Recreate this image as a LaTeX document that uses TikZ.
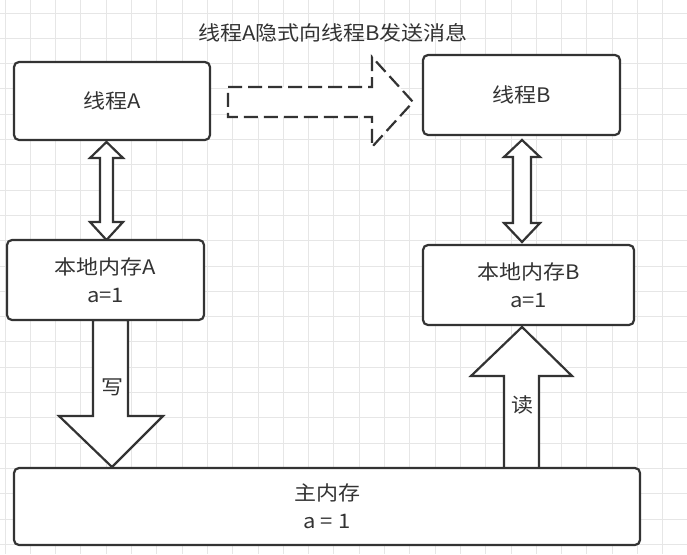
\documentclass[tikz,border=0pt]{standalone}
\usepackage{fontspec}
\setmainfont[FakeStretch=1.1]{Noto Sans CJK SC}
\usetikzlibrary{calc}
\definecolor{ink}{HTML}{333333}
\definecolor{gridc}{HTML}{E6E6E6}
\begin{document}
\begin{tikzpicture}[x=1pt,y=-1pt,
  box/.style={draw=ink, line width=2.2pt, rounded corners=5pt, fill=white, text=ink,
    align=center, inner sep=0pt, font=\fontsize{20}{28}\selectfont},
  blockarrow/.style={draw=ink, line width=2.2pt, fill=white, line join=miter},
  dasharrow/.style={blockarrow, dash pattern=on 14pt off 6pt},
  lbl/.style={text=ink, inner sep=0pt, font=\fontsize{20}{26}\selectfont}]
\fill[white] (0,0) rectangle (687,554);
\useasboundingbox (0,0) rectangle (687,554);
\foreach \i in {0,...,27} \draw[gridc, line width=1pt] ({5+25.3*\i},0) -- ({5+25.3*\i},554);
\foreach \j in {0,...,21} \draw[gridc, line width=1pt] (0,{13+25.3*\j}) -- (687,{13+25.3*\j});

% block arrows
\draw[blockarrow] (106.5,142) -- (90,158) -- (100,158) -- (100,222) -- (90,222) -- (106.5,240)
  -- (123,222) -- (113,222) -- (113,158) -- (123,158) -- cycle;
\draw[blockarrow] (522,140) -- (504,157) -- (513,157) -- (513,223) -- (504,223) -- (522,242)
  -- (540,223) -- (531,223) -- (531,157) -- (540,157) -- cycle;
\draw[blockarrow] (93,320) -- (93,416) -- (59,416) -- (112,467) -- (163,416) -- (128,416) -- (128,320) -- cycle;
\draw[blockarrow] (504,469) -- (504,376) -- (471,376) -- (522,327) -- (572,376) -- (539,376) -- (539,469) -- cycle;
\draw[dasharrow] (228,87) -- (372,87) -- (372,57) -- (413,102) -- (372,147) -- (372,117) -- (228,117) -- cycle;

% boxes
\node[box, minimum width=196, minimum height=78] (ta) at (112,101) {线程A};
\node[box, minimum width=197, minimum height=80] (tb) at (521.5,95) {线程B};
\node[box, minimum width=197, minimum height=80] (la) at (105.5,280) {本地内存A\\a=1};
\node[box, minimum width=211, minimum height=80] (lb) at (528.5,285) {本地内存B\\a=1};
\node[box, minimum width=626, minimum height=77] (mm) at (327,506.5) {主内存\\a = 1};

% labels
\node[lbl] (title) at (333,33) {线程A隐式向线程B发送消息};
\node[lbl] (w) at (112,387) {写};
\node[lbl] (r) at (522,405) {读};
\end{tikzpicture}
\end{document}
